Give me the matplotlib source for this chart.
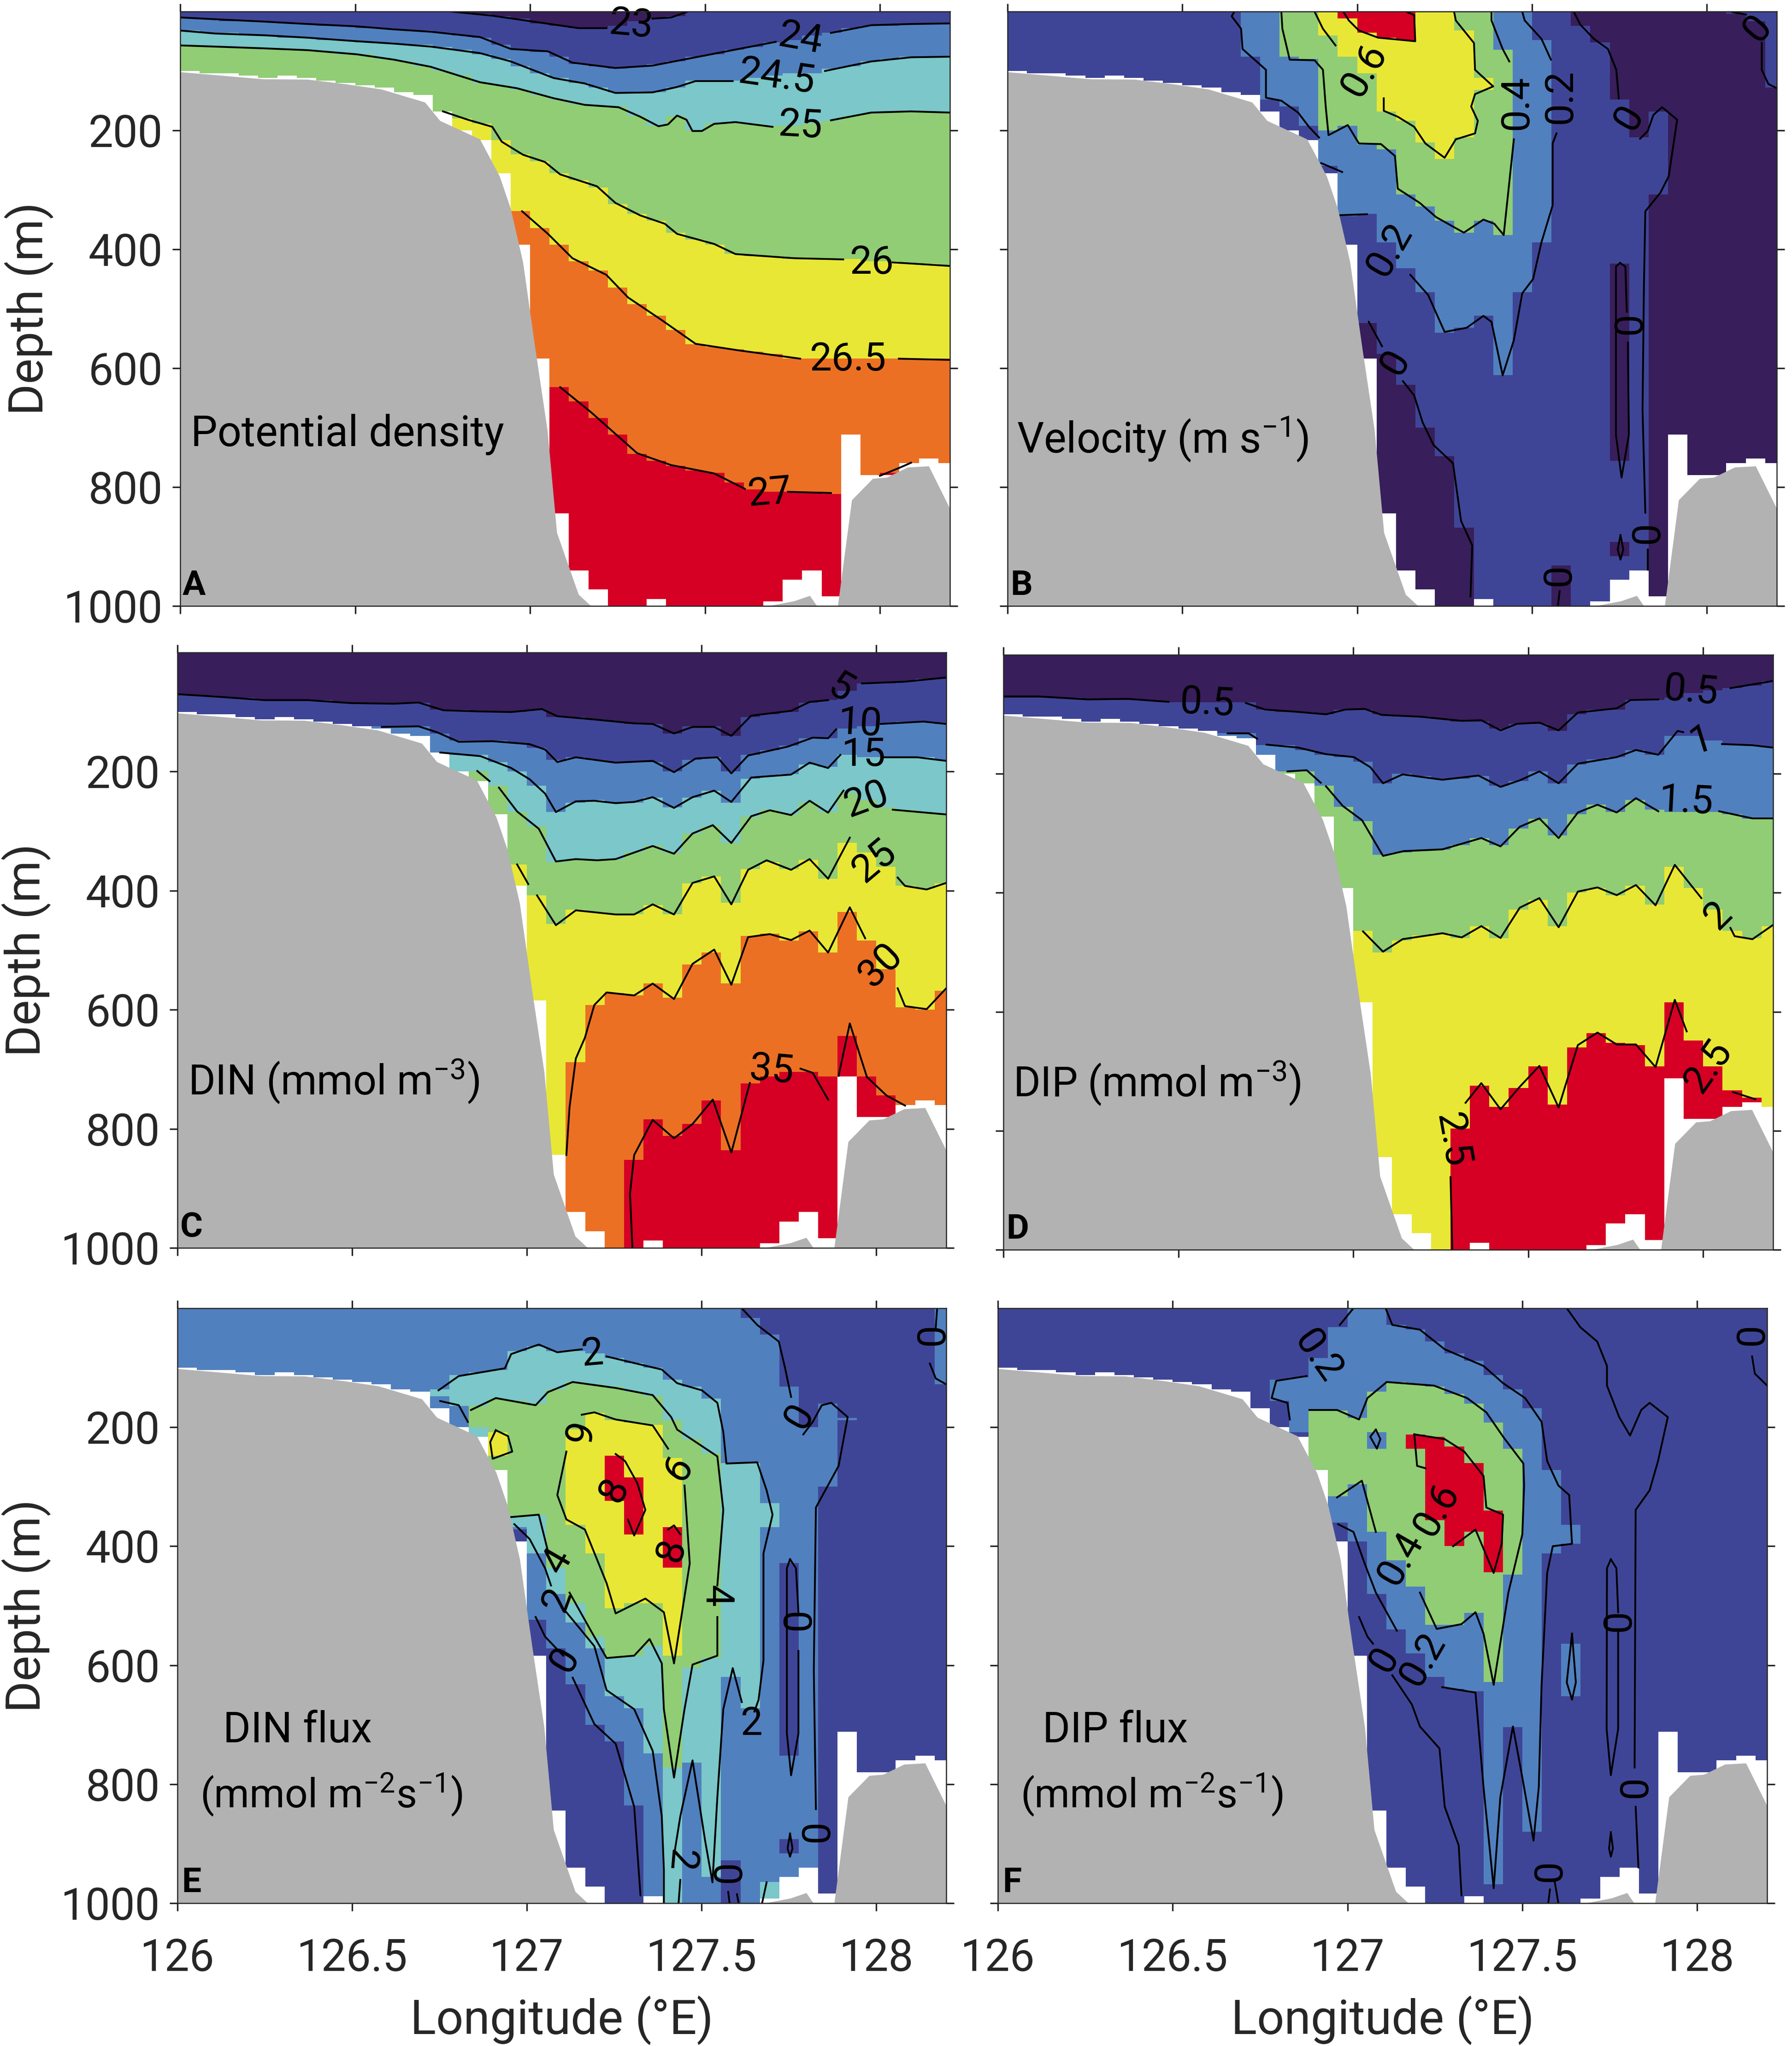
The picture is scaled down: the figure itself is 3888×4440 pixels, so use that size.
import numpy as np
import matplotlib
matplotlib.use('Agg')
import matplotlib.pyplot as plt
from matplotlib.colors import ListedColormap
from matplotlib.path import Path

nan = np.nan

COLOURS = ['#381E5B', '#3F4596', '#5180BF', '#7BC7C9', '#90CD74', '#E9E735', '#EC7024', '#D60024']
DARK, NAVY, BLUE, TEAL, GREEN, YELLOW, ORANGE, RED = range(8)
GREY = '#B2B2B2'

XTICKS = [126, 126.5, 127, 127.5, 128]
XTICKLABELS = ['126', '126.5', '127', '127.5', '128']
YTICKS = [200, 400, 600, 800, 1000]

# seabed, smooth outline
SHELF_LON = [126, 126.10, 126.24, 126.364, 126.47, 126.575, 126.70, 126.743, 126.857, 126.913, 126.945,
             126.98, 127.015, 127.05, 127.077, 127.139, 127.174]
SHELF_DEP = [102, 107, 114, 114.5, 122, 131, 153, 184, 215, 277, 332, 422, 567, 705, 877, 981, 1000]
HUMP_LON = [127.684, 127.755, 127.80, 127.82]
HUMP_DEP = [1000, 992, 983, 1000]
RIDGE_LON = [127.88, 127.92, 127.98, 128.02, 128.08, 128.14, 128.2]
RIDGE_DEP = [1000, 822, 786, 784, 767, 765, 836]

# deepest wet depth of each model column (1/18 degree wide)
COLUMN_BOTTOM = [99, 102, 105, 108, 110, 108, 110, 114, 121, 123, 126, 134, 141, 168, 199, 215, 272, 390, 585, 844,
                 939, 970, 1000, 1000, 986, 1000, 1000, 1000, 1000, 1000, 991, 957, 941, 985, 713, 781, 779, 759,
                 751, 758]

# ---- panel A : potential density
A_23 = ([126.773, 126.892, 127.033, 127.139, 127.218, nan, 127.35, 127.403, 127.447],
        [0, 7, 19, 28, 28, nan, 12, 10, 1])
A_24 = ([126, 126.10, 126.241, 126.364, 126.505, 126.611, 126.716, 126.857, 126.945, 127.051, 127.121, 127.244,
         127.35, 127.473, 127.561, 127.702, nan, 127.86, 127.975, 128.089, 128.2],
        [10, 13, 17, 21, 25, 30, 34, 43, 63, 67, 86, 95, 91, 77, 67, 51, nan, 36, 23, 21, 20])
A_245 = ([126, 126.10, 126.241, 126.364, 126.505, 126.611, 126.716, 126.857, 126.945, 127.068, 127.156, 127.244,
          127.35, 127.42, 127.473, 127.579, nan, 127.843, 127.975, 128.089, 128.2],
         [32, 37, 40, 44, 50, 54, 59, 70, 84, 112, 121, 137, 136, 127, 117, 117, nan, 100, 84, 77, 76])
A_25 = ([126, 126.10, 126.241, 126.364, 126.505, 126.611, 126.716, 126.857, 126.962, 127.068, 127.156, 127.253,
         127.315, 127.367, 127.394, 127.42, 127.447, 127.464, 127.491, 127.526, 127.587, 127.693, nan, 127.86,
         127.975, 128.089, 128.2],
        [57, 59, 62, 65, 72, 81, 93, 119, 129, 146, 157, 161, 177, 193, 190, 175, 182, 201, 201, 189, 186, 194, nan,
         183, 170, 168, 170])
A_26 = ([126.751, 126.822, 126.892, 126.919, 126.98, 127.042, 127.086, 127.191, 127.244, 127.315, 127.385, 127.42,
         127.526, 127.587, 127.755, 127.895, nan, 128.036, 128.2],
        [168, 182, 194, 219, 241, 253, 274, 294, 322, 343, 357, 374, 391, 408, 415, 417, nan, 422, 428])
A_265 = ([126.977, 127.051, 127.121, 127.218, 127.28, 127.376, 127.473, 127.596, 127.772, nan, 128.054, 128.2],
         [336, 374, 415, 443, 481, 519, 559, 570, 584, nan, 584, 586])
A_27 = ([127.086, 127.174, 127.306, 127.403, 127.526, 127.614, nan, 127.737, 127.86],
        [632, 674, 743, 763, 777, 803, nan, 808, 810])
A_27B = ([128.0, 128.054, 128.089], [781, 768, 759])
A_LABELS = [('23', 127.288, 22, -5), ('24', 127.772, 46, -10), ('24.5', 127.705, 110, -8), ('25', 127.772, 192, -3),
            ('26', 127.976, 423, 0), ('26.5', 127.908, 586, 0), ('27', 127.684, 810, 5)]

# ---- panel B : velocity
B_0_EAST = ([127.619, 127.638, 127.677, 127.717, 127.741, 127.748, nan, 127.809, 127.831, 127.847, 127.872, 127.915,
             127.891, 127.867, 127.824, 127.82, 127.816, 127.824, nan, 127.831, 127.831, nan, 127.835, nan, 128.25,
             nan, 128.25],
            [0, 22, 46, 63, 98, 146, nan, 214, 201, 174, 161, 182, 277, 305, 336, 463, 670, 843, nan, 905, 939, nan,
             1000, nan, 1000, nan, 0])
B_0_CORNER = ([128.073, 128.112, nan, 128.14, nan, 128.157, 128.157, 128.176, 128.2, nan, 128.25, nan, 128.25],
              [1, 5, nan, 16, nan, 53, 98, 122, 129, nan, 129, nan, 0])
B_0_SPINDLE = ([127.752, 127.767, 127.771, nan, 127.774, 127.777, 127.756, 127.74, 127.74, 127.752],
               [423, 429, 505, nan, 557, 712, 784, 712, 429, 423])
B_0_SMALL = ([127.753, 127.761, 127.753, 127.745, 127.753], [881, 905, 922, 905, 881])
B_0_FOOT = ([127.574, 127.579, nan, 127.58, nan, 127.6], [1000, 975, nan, 919, nan, 1000])
B_0_WEST = ([127.033, 127.071, nan, 127.131, 127.163, 127.187, 127.218, 127.274, 127.297, 127.329, 127.324, nan,
             127.324, nan, 127.0, nan, 127.0],
            [522, 563, nan, 622, 646, 691, 729, 760, 857, 898, 984, nan, 1000, nan, 1000, nan, 522])
B_02 = ([126.649, 126.641, 126.668, 126.672, 126.739, 126.739, 126.783, 126.831, 126.862, 126.891, nan, 126.897,
         126.957, nan, 126.934, 127.028, nan, 127.152, 127.203, 127.25, 127.313, 127.361, 127.384, 127.416, 127.448,
         127.472, 127.503, 127.527, 127.559, 127.559, 127.57, nan, 127.554, 127.527, 127.479, 127.472],
        [0, 8, 29, 63, 98, 145, 150, 170, 194, 212, nan, 255, 270, nan, 343, 341, nan, 443, 477, 539, 532, 512, 522,
         612, 553, 474, 450, 388, 326, 222, 205, nan, 81, 46, 15, 0])
B_04 = ([126.783, 126.786, 126.807, 126.878, 126.902, 126.91, 126.918, 126.973, 127.005, 127.068, 127.108, 127.116,
         127.179, 127.226, 127.305, 127.361, 127.392, 127.419, 127.448, nan, 127.435, 127.416, 127.384, 127.384],
        [0, 29, 81, 82, 98, 160, 208, 191, 222, 223, 243, 298, 322, 346, 372, 350, 357, 376, 215, nan, 84, 63, 15, 0])
B_06 = ([126.878, 126.902, 126.938, nan, 126.989, nan, 127.06, nan, 127.076, 127.076, 127.116, 127.163, 127.195,
         127.25, 127.282, 127.337, 127.345, 127.326, 127.337, 127.389, 127.337, 127.334, 127.282, 127.277],
        [0, 29, 57, nan, 84, nan, 119, nan, 146, 167, 177, 194, 222, 246, 215, 205, 184, 160, 139, 126, 98, 53, 15, 0])
B_08 = ([126.96, 126.976, 127.005, 127.06, 127.131, 127.166, 127.163, 127.139],
        [0, 15, 32, 44, 48, 50, 6, 0])
B_LABELS = [('0.6', 127.02, 99, 60), ('0.4', 127.456, 153, 90), ('0.2', 127.582, 143, 90), ('0.2', 127.092, 401, 60),
            ('0', 127.777, 179, 60), ('0', 127.78, 525, 90), ('0', 127.108, 591, 60), ('0', 127.831, 877, 90),
            ('0', 127.578, 948, 90), ('0', 128.144, 29, 50)]

# ---- panel C : DIN
C_5 = ([126, 126.109, 126.25, 126.373, 126.497, 126.62, 126.69, 126.761, 126.867, 126.955, 127.043, 127.087, 127.184,
        127.307, 127.36, 127.421, 127.474, 127.536, 127.585, 127.642, 127.756, 127.809, 127.862, nan, 127.959,
        128.082, 128.2],
       [70, 74, 80, 80, 85, 86, 84, 97, 99, 100, 95, 107, 112, 119, 120, 136, 125, 125, 140, 106, 98, 83, 80, nan,
        52, 49, 42])
C_10 = ([126.585, 126.69, 126.743, 126.805, 126.902, 127.008, 127.052, 127.087, 127.14, 127.254, 127.36, 127.421,
         127.483, 127.545, 127.585, 127.633, 127.747, 127.818, 127.862, 127.885, nan, 128.012, 128.135, 128.2],
        [125, 124, 134, 150, 149, 154, 163, 184, 176, 185, 182, 201, 178, 176, 203, 173, 158, 143, 144, 129, nan,
         120, 116, 120])
C_15 = ([126.752, 126.867, 126.955, 127.008, 127.052, 127.083, 127.14, 127.193, 127.254, 127.307, 127.36, 127.421,
         127.474, 127.536, 127.585, 127.642, 127.756, 127.809, 127.862, 127.897, nan, 128.02, 128.117, 128.2],
        [168, 174, 194, 213, 237, 268, 250, 249, 253, 251, 243, 261, 243, 232, 251, 210, 205, 185, 194, 172, nan,
         176, 176, 182])
C_20 = ([126.858, 126.893, nan, 126.92, 126.972, 127.034, 127.083, 127.14, 127.201, 127.254, 127.36, 127.421, 127.474,
         127.532, 127.585, 127.642, 127.695, 127.756, 127.809, 127.862, 127.906, nan, 128.047, 128.2],
        [199, 216, nan, 227, 267, 296, 351, 347, 349, 347, 325, 338, 304, 290, 320, 275, 265, 273, 249, 269, 232, nan,
         264, 272])
C_25 = ([126.972, 127.004, nan, 127.029, 127.083, 127.14, 127.254, 127.307, 127.36, 127.421, 127.474, 127.536,
         127.585, 127.633, 127.686, 127.756, 127.809, 127.862, 127.924, nan, 128.061, 128.082, 128.144, 128.2],
        [356, 389, nan, 408, 458, 433, 440, 440, 423, 440, 387, 376, 423, 365, 349, 365, 347, 380, 311, nan, 378, 392,
         398, 387])
C_30 = ([127.113, 127.122, 127.14, 127.166, 127.193, 127.228, 127.307, 127.36, 127.421, 127.474, 127.536, 127.585,
         127.633, 127.695, 127.756, 127.809, 127.862, 127.924, 127.968, nan, 128.061, 128.082, 128.144, 128.2],
        [844, 764, 682, 647, 592, 571, 576, 556, 582, 523, 499, 558, 478, 473, 483, 467, 504, 428, 480, nan, 564, 594,
         599, 564])
C_35 = ([127.302, 127.295, 127.307, 127.36, 127.421, 127.474, 127.532, 127.585, 127.638, nan, 127.783, 127.818,
         127.862],
        [1000, 909, 844, 785, 816, 792, 751, 840, 723, nan, 699, 706, 751])
C_35B = ([127.892, 127.924, 127.973, 128.029, 128.082], [711, 623, 713, 744, 761])
C_LABELS = [('5', 127.897, 61, -30), ('10', 127.953, 120, -3), ('15', 127.964, 172, 0), ('20', 127.971, 247, 20),
            ('25', 127.994, 351, 40), ('30', 128.012, 525, 45), ('35', 127.7, 702, -5)]

# ---- panel D : DIP
D_05 = ([126, 126.1, 126.242, 126.353, 126.472, nan, 126.693, 126.748, 126.843, 126.922, 126.978, 127.033, 127.081,
         127.191, 127.31, 127.366, 127.421, 127.468, 127.532, 127.587, 127.642, 127.753, 127.793, 127.872, nan,
         128.078, 128.2],
        [70, 70, 75, 74, 79, nan, 81, 92, 96, 100, 92, 91, 101, 104, 111, 110, 127, 116, 114, 127, 97, 90, 76, 75, nan,
         56, 44])
D_1 = ([126.641, 126.701, 126.725, nan, 126.752, 126.843, 126.922, 127.002, 127.049, 127.085, 127.141, 127.255,
        127.358, 127.421, 127.476, 127.532, 127.587, 127.642, 127.753, 127.808, 127.872, 127.927, 127.943, nan,
        128.054, 128.141, 128.2],
       [132, 132, 141, nan, 151, 156, 167, 172, 189, 216, 201, 210, 203, 222, 211, 196, 216, 183, 172, 160, 168, 128,
        130, nan, 150, 152, 156])
D_15 = ([126.812, 126.867, 126.907, nan, 126.922, 126.97, 127.025, 127.085, 127.144, 127.255, 127.366, 127.421,
         127.476, 127.532, 127.587, 127.642, 127.698, 127.753, 127.808, 127.872, nan, 128.046, 128.141, 128.2],
        [196, 194, 215, nan, 221, 254, 278, 338, 330, 327, 308, 322, 289, 275, 308, 265, 252, 265, 241, 263, nan, 263,
         275, 275])
D_2 = ([127.028, 127.085, 127.141, 127.255, 127.31, 127.366, 127.421, 127.476, 127.532, 127.587, 127.642, 127.698,
        127.753, 127.808, 127.864, 127.919, 127.995, nan, 128.078, 128.09, 128.141, 128.2],
       [465, 499, 478, 468, 475, 456, 476, 425, 409, 458, 398, 391, 404, 387, 421, 353, 409, nan, 459, 473, 478, 454])
D_25 = ([127.283, 127.278, nan, 127.321, 127.366, 127.421, 127.476, 127.532, 127.587, 127.642, 127.698, 127.753,
         127.808, 127.864, 127.919, 127.953, nan, 128.085, 128.149],
        [1000, 878, nan, 753, 720, 764, 726, 691, 761, 656, 635, 655, 655, 693, 580, 633, nan, 735, 747])
D_LABELS = [('0.5', 126.582, 82, -3), ('0.5', 127.964, 61, -5), ('1', 127.995, 144, 17), ('1.5', 127.951, 247, -3),
            ('2', 128.043, 439, 45), ('2.5', 128.014, 692, 55), ('2.5', 127.283, 816, -80)]

# ---- panel E : DIN flux
E_0_EAST = ([127.615, 127.659, 127.721, 127.739, 127.756, nan, 127.791, 127.818, 127.844, 127.871, 127.918, 127.892,
             127.827, 127.821, 127.827, nan, 127.835, nan, 127.84, nan, 128.25, nan, 128.25],
            [0, 28, 56, 101, 149, nan, 212, 191, 163, 159, 183, 265, 335, 609, 842, nan, 944, nan, 1000, nan, 1000,
             nan, 0])
E_0_CORNER = ([128.174, 128.17, nan, 128.153, 128.17, 128.2, nan, 128.25, nan, 128.25],
              [0, 32, nan, 93, 118, 128, nan, 128, nan, 0])
E_0_SPINDLE = ([127.753, 127.77, 127.777, nan, 127.777, 127.777, 127.756, 127.744, 127.744, 127.753],
               [422, 437, 511, nan, 576, 715, 785, 715, 437, 422])
E_0_SMALL = ([127.753, 127.76, 127.753, 127.746, 127.753], [883, 908, 922, 908, 883])
E_0_WEST = ([127.025, 127.052, 127.104, nan, 127.131, 127.193, 127.254, 127.307, 127.325, nan, 127.325, nan, 126.9,
             nan, 126.9],
            [519, 552, 584, nan, 621, 699, 732, 838, 987, nan, 1000, nan, 1000, nan, 519])
E_0_SLOPE = ([126.96, nan, 127.008, nan, 127.0, nan, 126.96], [369, nan, 388, nan, 400, nan, 400])
E_0_FOOT = ([127.58, 127.576, nan, 127.58, nan, 127.601, 127.606], [1000, 981, nan, 917, nan, 985, 1000])
E_2 = ([126.747, 126.805, 126.937, 126.955, 127.034, 127.087, 127.157, nan, 127.228, 127.342, 127.386, 127.43,
        127.501, 127.545, 127.562, 127.571, 127.659, 127.686, 127.703, 127.677, 127.677, 127.663, 127.651, nan,
        127.615, 127.589, 127.562, 127.545, 127.531, 127.51, 127.474, 127.439, 127.421, nan, 127.439, 127.434, nan,
        127.392, 127.392, 127.386, 127.36, 127.307, 127.228, 127.193, 127.113, nan, 127.069, 127.052, 127.008,
        126.964, nan, 126.884, nan, 126.831, 126.805, 126.752],
       [138, 114, 101, 77, 61, 74, 69, nan, 81, 97, 103, 126, 138, 159, 208, 261, 259, 306, 347, 412, 592, 658, 678,
        nan, 662, 605, 674, 822, 965, 895, 760, 854, 920, nan, 961, 1000, nan, 1000, 944, 854, 744, 674, 642, 568,
        511, nan, 466, 437, 388, 363, nan, 282, nan, 191, 163, 156])
E_2B = ([127.673, 127.686, nan, 127.72, nan, 127.72], [1000, 965, nan, 965, nan, 1000])
E_4 = ([126.84, 126.911, 127.025, 127.06, 127.131, 127.254, 127.36, 127.413, 127.43, 127.545, 127.562, 127.545, nan,
        127.545, 127.545, 127.474, 127.451, 127.421, 127.392, 127.386, 127.351, 127.307, 127.228, 127.184, 127.122,
        nan, 127.06, 127.034, 126.955, nan, 126.902],
       [171, 151, 163, 141, 124, 134, 146, 183, 204, 249, 339, 466, nan, 519, 584, 599, 674, 789, 674, 597, 556, 584,
        588, 543, 478, nan, 408, 347, 351, nan, 257])
E_6 = ([127.157, 127.193, 127.254, 127.36, 127.404, nan, 127.451, 127.466, 127.421, 127.392, 127.339, 127.254,
        127.228, 127.166, 127.113, 127.087, 127.113],
       [179, 175, 187, 197, 236, nan, 298, 429, 597, 511, 488, 513, 462, 372, 355, 314, 241])
E_6B = ([126.911, 126.946, 126.958, 126.902, 126.895, 126.911], [205, 215, 241, 253, 225, 205])
E_8 = ([127.254, 127.281, 127.316, 127.339, 127.307, 127.289, nan, 127.263, nan, 127.228, nan, 127.228],
       [245, 257, 294, 339, 382, 355, nan, 324, nan, 324, nan, 257])
E_8B = ([127.404, 127.421, 127.439, nan, 127.448, nan, 127.404], [372, 365, 380, nan, 435, nan, 435])
E_LABELS = [('2', 127.187, 77, 5), ('6', 127.131, 212, -105), ('6', 127.434, 269, 55), ('8', 127.249, 306, 65),
            ('8', 127.413, 407, 75), ('4', 127.087, 425, 60), ('2', 127.087, 490, 70), ('4', 127.541, 484, -90),
            ('0', 127.779, 182, 60), ('0', 127.779, 523, 90), ('0', 127.108, 591, 60), ('2', 127.642, 699, 0),
            ('0', 127.832, 879, 90), ('2', 127.439, 928, -95), ('0', 127.58, 947, 90), ('0', 128.161, 44, 90)]

# ---- panel F : DIP flux
F_0_EAST = ([127.627, 127.666, 127.714, 127.742, 127.742, 127.777, 127.808, 127.84, 127.864, 127.916, 127.888, 127.864,
             127.824, 127.821, nan, 127.824, 127.832],
            [0, 32, 56, 97, 130, 183, 214, 171, 159, 183, 257, 306, 339, 772, nan, 838, 940])
F_0_SPINDLE = ([127.753, 127.769, 127.774, nan, 127.774, 127.774, 127.753, 127.741, 127.742, 127.753],
               [422, 437, 511, nan, 543, 707, 785, 707, 437, 422])
F_0_SMALL = ([127.753, 127.759, 127.753, 127.748, 127.753], [881, 908, 922, 908, 881])
F_0_CORNER = ([128.157, 128.165, 128.2], [81, 110, 130])
F_0_WEST = ([127.033, 127.057, 127.073, nan, 127.128, 127.184, 127.207, 127.263, 127.278, 127.318, 127.326],
            [519, 552, 564, nan, 617, 666, 703, 740, 838, 903, 987])
F_0_FOOT_A = ([127.574, 127.579], [1000, 977])
F_0_FOOT_B = ([127.592, 127.603], [962, 1000])
F_02 = ([127.109, 127.128, 127.207, 127.278, 127.389, 127.445, 127.508, 127.555, 127.571, 127.603, 127.634, 127.642,
         127.587, 127.571, 127.555, 127.547, 127.532, 127.5, 127.473, 127.437, 127.418, 127.389, 127.366, 127.271, nan,
         127.141, 127.081, 127.049, 127.017, 126.973, nan, 126.93, nan, 126.835, 126.828, 126.783, 126.796, 126.883,
         nan, 126.978, 127.017],
        [0, 28, 36, 69, 97, 126, 151, 191, 257, 298, 314, 396, 400, 445, 633, 805, 895, 789, 703, 822, 975, 805, 646,
         637, nan, 542, 478, 429, 376, 363, nan, 265, nan, 187, 159, 151, 122, 114, nan, 28, 0])
F_02B = ([127.642, 127.653, 127.642, 127.627, 127.642], [547, 629, 658, 629, 547])
F_02C = ([127.081, 127.094, 127.084, 127.065, 127.081], [204, 220, 236, 216, 204])
F_04 = ([126.891, 126.97, 127.033, 127.057, 127.112, 127.247, 127.342, 127.397, 127.445, 127.503, 127.505, 127.5,
         127.46, 127.418, 127.389, 127.366, 127.326, 127.255, 127.207, nan, 127.081, 127.041, 126.97, nan, 126.946,
         nan, 126.891],
        [171, 171, 187, 151, 124, 130, 151, 175, 216, 261, 298, 380, 478, 633, 547, 511, 531, 539, 478, nan, 376, 290,
         318, nan, 318, nan, 249])
F_06 = ([127.191, 127.278, 127.334, 127.389, 127.397, 127.445, 127.441, 127.418, 127.366, 127.302, nan, 127.235, nan,
         127.223, 127.199, 127.191],
        [212, 220, 241, 282, 335, 347, 396, 445, 372, 400, nan, 345, nan, 269, 265, 212])
F_LABELS = [('0.2', 126.915, 81, -55), ('0.6', 127.255, 339, 60), ('0.4', 127.152, 421, 60), ('0.2', 127.215, 591, 60),
            ('0', 127.104, 591, 60), ('0', 127.777, 525, 90), ('0', 127.824, 805, 90), ('0', 127.579, 946, 90),
            ('0', 128.157, 44, 90)]

W, H = 3888, 4440
COL_WIDTH = 1 / 18
lon_edges = 126 + np.arange(41) * COL_WIDTH
dep_edges = np.arange(0, 1001, 4.0)
lon_mid = 0.5 * (lon_edges[:-1] + lon_edges[1:])
dep_mid = 0.5 * (dep_edges[:-1] + dep_edges[1:])

plt.rcParams['font.family'] = ['Roboto', 'DejaVu Sans']
plt.rcParams['mathtext.default'] = 'regular'
plt.rcParams['axes.unicode_minus'] = False


def polygon(line, mode):
    lon, dep = np.array(line[0], float), np.array(line[1], float)
    keep = ~np.isnan(lon)
    pts = list(zip(lon[keep], dep[keep]))
    if mode == 'closed':
        return pts
    end = 1001 if mode == 'down' else -1
    x0, y0 = pts[0]
    x1, y1 = pts[-1]
    return [(x0 - 0.04, end), (x0 - 0.04, y0)] + pts + [(x1 + 0.04, y1), (x1 + 0.04, end)]


def field_from(base, layers):
    lon_g, dep_g = np.meshgrid(lon_mid, dep_mid)
    cells = np.column_stack([lon_g.ravel(), dep_g.ravel()])
    out = np.full(lon_g.shape, float(base))
    for colour, line, mode in layers:
        inside = Path(polygon(line, mode)).contains_points(cells).reshape(lon_g.shape)
        out[inside] = colour
    # cells under the model bottom stay empty
    out[dep_g > np.array(COLUMN_BOTTOM)[None, :]] = nan
    return out


def draw_panel(box, base, layers, extra_lines, labels, name, letter, show_x, show_y):
    left, right, top, bottom = box
    ax = fig.add_axes([left / W, 1 - bottom / H, (right - left) / W, (bottom - top) / H])
    field = field_from(base, layers)
    ax.pcolormesh(lon_edges, dep_edges, np.ma.masked_invalid(field), cmap=ListedColormap(COLOURS), vmin=-0.5, vmax=7.5,
                  shading='flat', antialiased=False, linewidth=0)
    ax.fill(SHELF_LON + [126], SHELF_DEP + [1000], color=GREY, lw=0, zorder=3)
    ax.fill(HUMP_LON, HUMP_DEP, color=GREY, lw=0, zorder=3)
    ax.fill(RIDGE_LON + [128.2], RIDGE_DEP + [1000], color=GREY, lw=0, zorder=3)

    for _, line, _ in layers:
        ax.plot(line[0], line[1], color='k', lw=0.95, zorder=2)
    for line in extra_lines:
        ax.plot(line[0], line[1], color='k', lw=0.95, zorder=2)
    for txt, x, y, rot in labels:
        ax.text(x, y, txt, fontsize=20.5, rotation=rot, ha='center', va='center', rotation_mode='anchor', zorder=4)

    ax.set_xlim(126, 128.2)
    ax.set_ylim(1000, 0)
    ax.set_xticks(XTICKS)
    ax.set_yticks(YTICKS)
    ax.set_xticklabels(XTICKLABELS if show_x else [])
    if not show_y:
        ax.set_yticklabels([])
    ax.tick_params(direction='out', length=4, width=0.8, top=True, right=True, labelsize=23, color='#262626',
                   labelcolor='#262626', pad=5)
    ax.tick_params(axis='x', pad=14)
    for s in ax.spines.values():
        s.set_linewidth(0.6)
        s.set_color('#262626')
        s.set_zorder(5)
    if show_y:
        ax.set_ylabel('Depth (m)', fontsize=25, color='#262626', labelpad=5)
    if show_x:
        ax.set_xlabel('Longitude (°E)', fontsize=25, color='#262626', labelpad=8)
    for txt, x, y, size in name:
        ax.text(x, y, txt, fontsize=size, ha='left', va='center', zorder=4)
    ax.text(126.04, 966, letter, fontsize=18, fontweight='bold', ha='center', va='center', zorder=4)
    return ax


fig = plt.figure(figsize=(W / 300, H / 300), dpi=300)

draw_panel((391, 2061, 25, 1315), NAVY,
           [(DARK, A_23, 'up'), (BLUE, A_24, 'down'), (TEAL, A_245, 'down'), (GREEN, A_25, 'down'),
            (YELLOW, A_26, 'down'), (ORANGE, A_265, 'down'), (RED, A_27, 'down'), (RED, A_27B, 'down')],
           [], A_LABELS, [('Potential density', 126.03, 712, 22)], 'A', False, True)

draw_panel((2186, 3855, 25, 1315), NAVY,
           [(DARK, B_0_EAST, 'closed'), (NAVY, B_0_CORNER, 'closed'), (DARK, B_0_SPINDLE, 'closed'),
            (DARK, B_0_SMALL, 'closed'), (DARK, B_0_FOOT, 'closed'), (DARK, B_0_WEST, 'closed'),
            (BLUE, B_02, 'closed'), (GREEN, B_04, 'closed'), (YELLOW, B_06, 'closed'), (RED, B_08, 'closed')],
           [], B_LABELS, [('Velocity (m s$^{-1}$)', 126.027, 720, 22)], 'B', False, False)

draw_panel((385, 2053, 1416, 2708), DARK,
           [(NAVY, C_5, 'down'), (BLUE, C_10, 'down'), (TEAL, C_15, 'down'), (GREEN, C_20, 'down'),
            (YELLOW, C_25, 'down'), (ORANGE, C_30, 'down'), (RED, C_35, 'down'), (RED, C_35B, 'down')],
           [], C_LABELS, [('DIN (mmol m$^{-3}$)', 126.03, 720, 21.5)], 'C', False, True)

draw_panel((2177, 3847, 1421, 2712), DARK,
           [(NAVY, D_05, 'down'), (BLUE, D_1, 'down'), (GREEN, D_15, 'down'), (YELLOW, D_2, 'down'),
            (RED, D_25, 'down')],
           [], D_LABELS, [('DIP (mmol m$^{-3}$)', 126.028, 720, 21.5)], 'D', False, False)

draw_panel((385, 2053, 2839, 4130), BLUE,
           [(NAVY, E_0_EAST, 'closed'), (BLUE, E_0_CORNER, 'closed'), (NAVY, E_0_SPINDLE, 'closed'),
            (NAVY, E_0_SMALL, 'closed'), (NAVY, E_0_WEST, 'closed'), (NAVY, E_0_SLOPE, 'closed'),
            (NAVY, E_0_FOOT, 'closed'), (TEAL, E_2, 'closed'), (TEAL, E_2B, 'closed'), (GREEN, E_4, 'closed'),
            (YELLOW, E_6, 'closed'), (YELLOW, E_6B, 'closed'), (RED, E_8, 'closed'), (RED, E_8B, 'closed')],
           [], E_LABELS, [('DIN flux', 126.13, 710, 22), ('(mmol m$^{-2}$s$^{-1}$)', 126.065, 818, 21)], 'E', True, True)

draw_panel((2165, 3834, 2839, 4130), NAVY,
           [(BLUE, F_02, 'closed'), (BLUE, F_02B, 'closed'), (GREEN, F_04, 'closed'), (BLUE, F_02C, 'closed'),
            (RED, F_06, 'closed')],
           [F_0_EAST, F_0_SPINDLE, F_0_SMALL, F_0_CORNER, F_0_WEST, F_0_FOOT_A, F_0_FOOT_B],
           F_LABELS, [('DIP flux', 126.128, 710, 22), ('(mmol m$^{-2}$s$^{-1}$)', 126.065, 818, 21)], 'F', True, False)

fig.savefig('out.png', dpi=300)
plt.close(fig)
